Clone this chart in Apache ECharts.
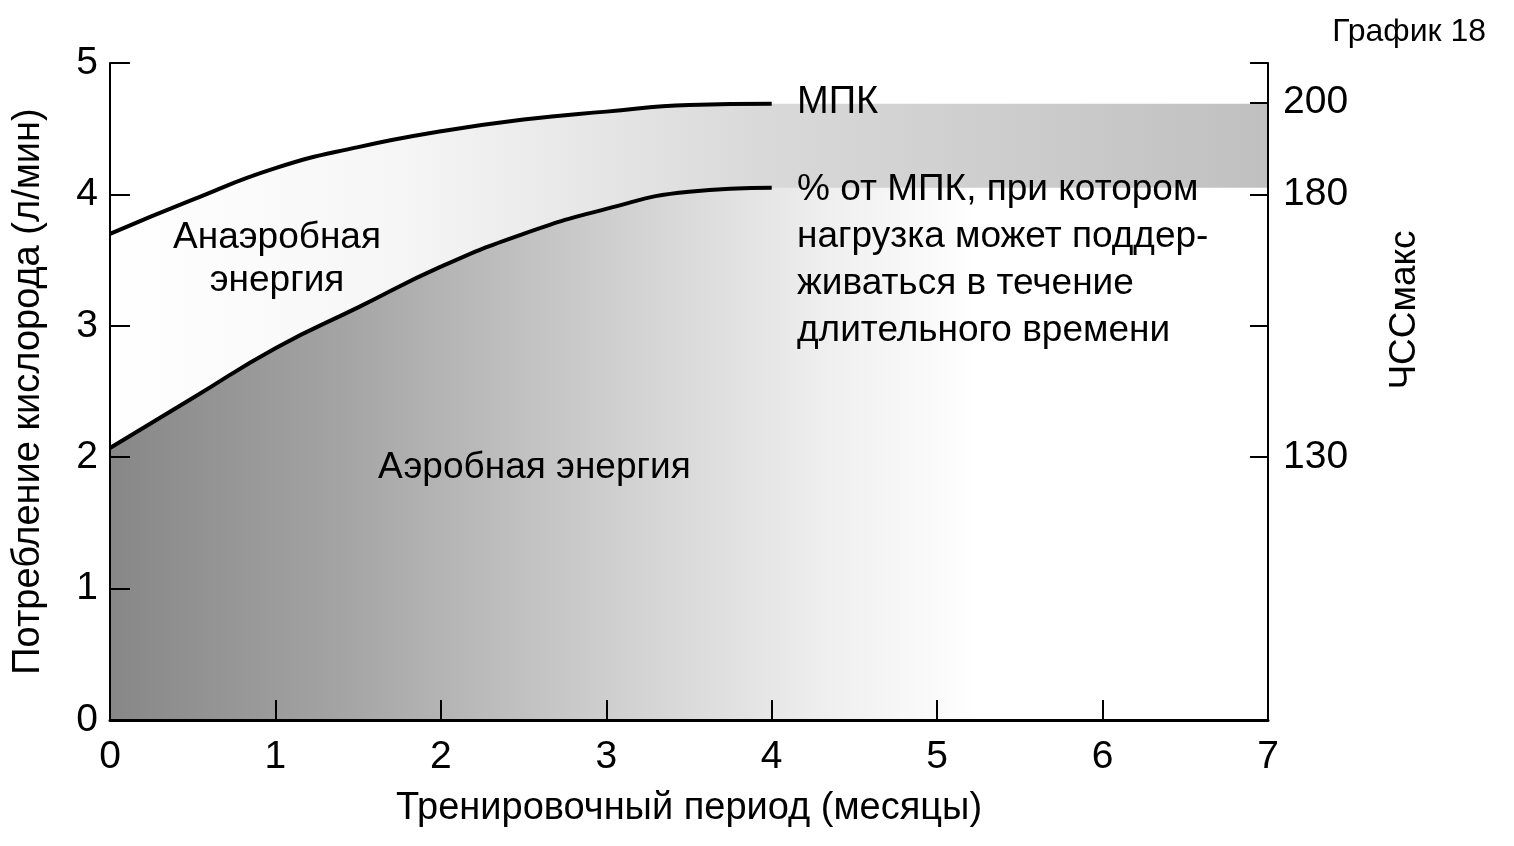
<!DOCTYPE html>
<html>
<head>
<meta charset="utf-8">
<script src="https://cdn.jsdelivr.net/npm/echarts@6/dist/echarts.min.js"></script>
<style>
  html, body { margin: 0; padding: 0; background: #fff; }
  #main { width: 1514px; height: 846px; }
</style>
</head>
<body>
<div id="main"></div>
<script>
// training period, months
var months = [0, 0.5, 1, 1.5, 2, 2.5, 3, 3.5, 4];
// МПК, л/мин
var vo2max = [3.70, 3.96, 4.20, 4.36, 4.48, 4.57, 4.63, 4.68, 4.69];
// % от МПК, sustained for a long time
var sustained = [2.07, 2.45, 2.83, 3.14, 3.45, 3.70, 3.89, 4.02, 4.05];
var xTicks = [0, 1, 2, 3, 4, 5, 6, 7];
var yTicks = [0, 1, 2, 3, 4, 5];
// right axis (ЧССмакс) positions on the left scale and their labels
var hrTickPos = [2, 3, 4, 4.7, 5];
var hrLabelPos = [2, 4, 4.7];
var hrLabels = ['130', '180', '200'];

var font = "'Liberation Sans Narrow', 'Arial Narrow', 'Liberation Sans', Arial, sans-serif";

function pairs(xs, ys) {
    return xs.map(function (x, i) { return [x, ys[i]]; });
}
// shading goes on to the right edge at the last level
function shade(xs, ys) {
    var d = pairs(xs, ys);
    d.push([xTicks[xTicks.length - 1], ys[ys.length - 1]]);
    return d;
}

var myChart = echarts.init(document.getElementById('main'));
myChart.setOption({
    animation: false,
    grid: { left: 110, right: 246, top: 63, bottom: 126 },
    xAxis: {
        type: 'value', min: xTicks[0], max: xTicks[xTicks.length - 1], interval: 1,
        z: 10,
        name: 'Тренировочный период (месяцы)',
        nameLocation: 'middle', nameGap: 70,
        nameTextStyle: { fontFamily: font, fontSize: 38, color: '#000' },
        axisLine: { onZero: false, lineStyle: { color: '#000', width: 3 } },
        axisTick: { inside: true, length: 20, lineStyle: { color: '#000', width: 2 } },
        axisLabel: { fontFamily: font, fontSize: 39, color: '#000', margin: 18 },
        splitLine: { show: false }
    },
    yAxis: [{
        type: 'value', min: yTicks[0], max: yTicks[yTicks.length - 1], interval: 1,
        z: 10,
        name: 'Потребление кислорода (л/мин)',
        nameLocation: 'middle', nameGap: 62, nameRotate: 90,
        nameTextStyle: { fontFamily: font, fontSize: 38, color: '#000' },
        axisLine: { show: true, lineStyle: { color: '#000', width: 2 } },
        axisTick: { show: true, inside: true, length: 20, lineStyle: { color: '#000', width: 2 } },
        axisLabel: { fontFamily: font, fontSize: 39, color: '#000', margin: 12 },
        splitLine: { show: false }
    }, {
        type: 'value', min: yTicks[0], max: yTicks[yTicks.length - 1], position: 'right',
        z: 10,
        axisLine: { show: true, lineStyle: { color: '#000', width: 2 } },
        axisTick: { show: true, inside: true, length: 18, customValues: hrTickPos, lineStyle: { color: '#000', width: 2 } },
        axisLabel: {
            fontFamily: font, fontSize: 39, color: '#000', margin: 15,
            customValues: hrLabelPos,
            formatter: function (v) {
                var i = hrLabelPos.indexOf(v);
                return i >= 0 ? hrLabels[i] : '';
            }
        },
        splitLine: { show: false }
    }],
    series: [{
        // between the curves, and the band to the right
        type: 'line', smooth: true, symbol: 'none', silent: true,
        data: shade(months, vo2max),
        lineStyle: { width: 0 },
        areaStyle: {
            opacity: 1,
            color: new echarts.graphic.LinearGradient(0, 0, 1, 0, [
                { offset: 0, color: '#ffffff' },
                { offset: 0.25, color: '#f6f6f6' },
                { offset: 0.55, color: '#dadada' },
                { offset: 1, color: '#c0c0c0' }
            ])
        },
        z: 1
    }, {
        // aerobic region under the lower curve
        type: 'line', smooth: true, symbol: 'none', silent: true,
        data: shade(months, sustained),
        lineStyle: { width: 0 },
        areaStyle: {
            opacity: 1,
            color: new echarts.graphic.LinearGradient(0, 0, 1, 0, [
                { offset: 0, color: '#878787' },
                { offset: 0.2, color: '#a4a4a4' },
                { offset: 0.45, color: '#d2d2d2' },
                { offset: 0.62, color: '#efefef' },
                { offset: 0.75, color: '#ffffff' },
                { offset: 1, color: '#ffffff' }
            ])
        },
        z: 2
    }, {
        name: 'МПК',
        type: 'line', smooth: true, symbol: 'none',
        data: pairs(months, vo2max),
        lineStyle: { color: '#000', width: 4 },
        z: 3
    }, {
        name: '% от МПК',
        type: 'line', smooth: true, symbol: 'none',
        data: pairs(months, sustained),
        lineStyle: { color: '#000', width: 4 },
        z: 3
    }],
    graphic: [
        { type: 'text', z: 100, right: 28, top: 16,
          style: { text: 'График 18', fontFamily: font, fontSize: 32, fill: '#000' } },
        { type: 'text', z: 100, rotation: Math.PI / 2, x: 1405, y: 310,
          style: { text: 'ЧССмакс', align: 'center', verticalAlign: 'middle', fontFamily: font, fontSize: 37, fill: '#000' } },
        { type: 'text', z: 100, style: { x: 797, y: 103, verticalAlign: 'middle',
          text: 'МПК', fontFamily: font, fontSize: 38, fill: '#000' } },
        { type: 'text', z: 100, style: { x: 797, y: 260, verticalAlign: 'middle',
          text: '% от МПК, при котором\nнагрузка может поддер-\nживаться в течение\nдлительного времени',
          fontFamily: font, fontSize: 37, lineHeight: 47, fill: '#000' } },
        { type: 'text', z: 100, style: { x: 277, y: 259, align: 'center', verticalAlign: 'middle',
          text: 'Анаэробная\nэнергия', fontFamily: font, fontSize: 37, lineHeight: 43, fill: '#000' } },
        { type: 'text', z: 100, style: { x: 378, y: 468, verticalAlign: 'middle',
          text: 'Аэробная энергия', fontFamily: font, fontSize: 37, fill: '#000' } }
    ]
});
</script>
</body>
</html>
